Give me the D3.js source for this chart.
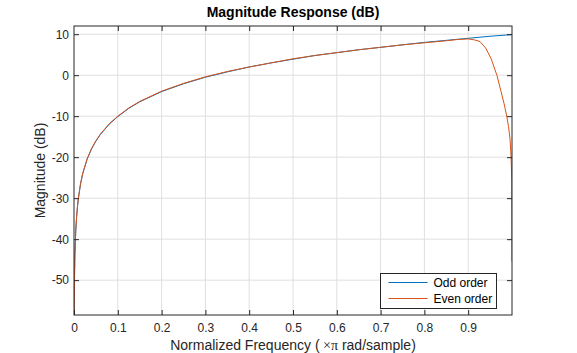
<!DOCTYPE html>
<html lang="en">

<head>
    <meta charset="utf-8">
    <script src='https://d3js.org/d3.v7.min.js'></script>
    <style>
        body { margin: 0; background: #fff; }
        text { font-family: "Liberation Sans", Arial, sans-serif; }
    </style>
</head>

<body>
    <div class="chart"></div>

    <script>

        // values (normalized frequency, dB)
        const oddFreq = [0, 0.0005, 0.001, 0.002, 0.004, 0.006, 0.008, 0.01, 0.015, 0.02, 0.03, 0.04, 0.05, 0.06, 0.08, 0.1,
            0.125, 0.15, 0.2, 0.25, 0.3, 0.35, 0.4, 0.45, 0.5, 0.55, 0.6, 0.65, 0.7, 0.75, 0.8, 0.85, 0.9, 0.95, 1.0];
        const oddMag = [-62, -56.1, -50.1, -44.0, -38.0, -34.5, -32.0, -30.1, -26.5, -24.0, -20.5, -18.0, -16.1, -14.5, -12.0, -10.1,
            -8.1, -6.5, -4.0, -2.1, -0.5, 0.8, 2.0, 3.0, 3.9, 4.8, 5.5, 6.2, 6.8, 7.4, 8.0, 8.5, 9.0, 9.5, 9.9];

        const evenFreq = [0, 0.0005, 0.001, 0.002, 0.004, 0.006, 0.008, 0.01, 0.015, 0.02, 0.03, 0.04, 0.05, 0.06, 0.08, 0.1,
            0.125, 0.15, 0.2, 0.25, 0.3, 0.35, 0.4, 0.45, 0.5, 0.55, 0.6, 0.65, 0.7, 0.75, 0.8, 0.85, 0.875, 0.9, 0.915, 0.927,
            0.94, 0.952, 0.9655, 0.975, 0.982, 0.988, 0.992, 0.9955, 0.998, 0.9995, 1.0];
        const evenMag = [-62, -56.0, -50.0, -43.9, -37.9, -34.4, -31.9, -30.0, -26.4, -23.9, -20.4, -17.9, -16.0, -14.4, -11.9, -10.0,
            -8.0, -6.4, -3.9, -2.0, -0.4, 0.9, 2.0, 3.0, 4.0, 4.8, 5.5, 6.2, 6.8, 7.4, 7.9, 8.4, 8.7, 8.85, 8.6, 8.2,
            6.6, 4.1, 0, -4.0, -7.0, -10.0, -12.5, -15.5, -20.0, -26.0, -45.5];

        const xTicks = [0, 0.1, 0.2, 0.3, 0.4, 0.5, 0.6, 0.7, 0.8, 0.9];
        const yTicks = [-50, -40, -30, -20, -10, 0, 10];
        const seriesNames = ["Odd order", "Even order"];
        const seriesColors = ["#0072BD", "#D95319"];

        const width = 577;
        const height = 353;
        const margin = { top: 26, right: 65, bottom: 38, left: 74 };
        const w = width - margin.left - margin.right;
        const h = height - margin.top - margin.bottom;

        const svg = d3.select(".chart").append("svg")
            .attr("width", width)
            .attr("height", height);

        const g = svg.append("g")
            .attr("transform", "translate(" + margin.left + "," + margin.top + ")");

        const x = d3.scaleLinear().domain([0, 1]).range([0, w]);
        const y = d3.scaleLinear().domain([-58.5, 12]).range([h, 0]);

        // grid
        g.append("g").selectAll("line")
            .data(xTicks.slice(1))
            .enter().append("line")
            .attr("x1", d => x(d)).attr("x2", d => x(d))
            .attr("y1", 0).attr("y2", h)
            .attr("stroke", "#dfdfdf");
        g.append("g").selectAll("line")
            .data(yTicks)
            .enter().append("line")
            .attr("x1", 0).attr("x2", w)
            .attr("y1", d => y(d)).attr("y2", d => y(d))
            .attr("stroke", "#dfdfdf");

        // lines, clipped to the plot box
        g.append("clipPath").attr("id", "clip")
            .append("rect").attr("width", w).attr("height", h);

        const line = d3.line()
            .x(d => x(d[0]))
            .y(d => y(d[1]));

        const series = [d3.zip(oddFreq, oddMag), d3.zip(evenFreq, evenMag)];

        g.append("g").attr("clip-path", "url(#clip)")
            .selectAll("path")
            .data(series)
            .enter().append("path")
            .attr("fill", "none")
            .attr("stroke", (d, i) => seriesColors[i])
            .attr("stroke-width", 1)
            .attr("d", line);

        // axes (ticks inside, on all four sides)
        const tickStyle = sel => {
            sel.select(".domain").remove();
            sel.selectAll("line").attr("stroke", "#262626");
            sel.selectAll("text").attr("fill", "#262626").style("font-size", "12px")
                .style("font-family", "'Liberation Sans', Arial, sans-serif");
        };

        g.append("g").attr("transform", "translate(0," + h + ")")
            .call(d3.axisBottom(x).tickValues(xTicks).tickSizeInner(-5).tickPadding(8).tickFormat(d => String(d)))
            .call(tickStyle);
        g.append("g")
            .call(d3.axisTop(x).tickValues(xTicks.slice(1)).tickSizeInner(-5).tickFormat(""))
            .call(tickStyle);
        g.append("g")
            .call(d3.axisLeft(y).tickValues(yTicks).tickSizeInner(-5).tickPadding(5).tickFormat(d => String(d)))
            .call(tickStyle);
        g.append("g").attr("transform", "translate(" + w + ",0)")
            .call(d3.axisRight(y).tickValues(yTicks).tickSizeInner(-5).tickFormat(""))
            .call(tickStyle);

        // box
        g.append("rect")
            .attr("width", w).attr("height", h)
            .attr("fill", "none")
            .attr("stroke", "#262626");

        // title and labels
        svg.append("text")
            .attr("x", margin.left + w / 2).attr("y", 17)
            .attr("text-anchor", "middle")
            .style("font-size", "14px").style("font-weight", "bold")
            .attr("fill", "#000")
            .text("Magnitude Response (dB)");

        const xl = svg.append("text")
            .attr("x", margin.left + w / 2).attr("y", 350)
            .attr("text-anchor", "middle")
            .style("font-size", "14px")
            .attr("fill", "#262626");
        xl.append("tspan").text("Normalized Frequency (");
        xl.append("tspan").style("font-family", "'Liberation Serif', serif").text(" \u00d7\u03c0");
        xl.append("tspan").text(" rad/sample)");

        svg.append("text")
            .attr("transform", "translate(45," + (margin.top + h / 2) + ") rotate(-90)")
            .attr("text-anchor", "middle")
            .style("font-size", "14px")
            .attr("fill", "#262626")
            .text("Magnitude (dB)");

        // legend
        const legend = svg.append("g").attr("transform", "translate(380.5,273.5)");
        legend.append("rect")
            .attr("width", 116).attr("height", 35)
            .attr("fill", "#fff").attr("stroke", "#262626");
        const item = legend.selectAll(".item")
            .data(seriesNames.map((name, i) => ({ name: name, color: seriesColors[i] })))
            .enter().append("g")
            .attr("transform", (d, i) => "translate(0," + (9 + i * 16) + ")");
        item.append("line")
            .attr("x1", 8).attr("x2", 47)
            .attr("stroke", d => d.color);
        item.append("text")
            .attr("x", 53).attr("dy", "0.35em")
            .style("font-size", "12px")
            .attr("fill", "#000")
            .text(d => d.name);

    </script>
</body>

</html>
